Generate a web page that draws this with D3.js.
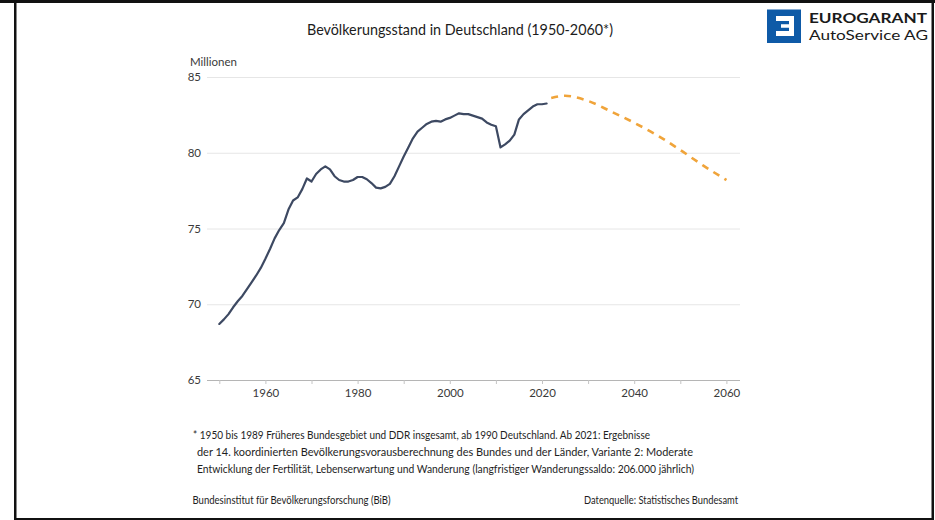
<!DOCTYPE html>
<html>
<head>
<meta charset="utf-8">
<script src="https://cdn.jsdelivr.net/npm/d3@7"></script>
<style>
  body { margin: 0; background: #fff; }
  svg { display: block; }
  text { font-family: Lato, "Noto Sans", sans-serif; }
</style>
</head>
<body>
<svg id="chart" width="935" height="520"></svg>
<script>
// Population of Germany, millions (1950–2021 observed)
const years = d3.range(1950, 2022);
const population = [
  68.7, 69.0, 69.35, 69.8, 70.2, 70.55, 71.0, 71.45, 71.9, 72.4,
  73.0, 73.65, 74.35, 74.9, 75.35, 76.25, 76.85, 77.05, 77.6, 78.3,
  78.1, 78.6, 78.9, 79.1, 78.9, 78.45, 78.2, 78.1, 78.1, 78.2,
  78.4, 78.4, 78.25, 78.0, 77.7, 77.65, 77.75, 77.95, 78.45, 79.1,
  79.75, 80.35, 80.95, 81.4, 81.65, 81.9, 82.05, 82.1, 82.05, 82.2,
  82.3, 82.45, 82.6, 82.55, 82.55, 82.45, 82.35, 82.25, 82.0, 81.85,
  81.75, 80.35, 80.55, 80.8, 81.2, 82.2, 82.55, 82.8, 83.05, 83.2,
  83.2, 83.25
];
// Projection (14th coordinated population projection, variant 2)
const projYears = [2022, 2025, 2030, 2035, 2040, 2045, 2050, 2055, 2060];
const projPopulation = [83.62, 83.76, 83.42, 82.72, 81.98, 81.15, 80.18, 79.15, 78.2];

const yTicks = [65, 70, 75, 80, 85];
const xTicks = [1950, 1960, 1970, 1980, 1990, 2000, 2010, 2020, 2030, 2040, 2050, 2060];
const xLabels = [1960, 1980, 2000, 2020, 2040, 2060];

const titleText = "Bevölkerungsstand in Deutschland (1950-2060*)";
const unitText = "Millionen";
const notes = [
  "* 1950 bis 1989 Früheres Bundesgebiet und DDR insgesamt, ab 1990 Deutschland. Ab 2021: Ergebnisse",
  "der 14. koordinierten Bevölkerungsvorausberechnung des Bundes und der Länder, Variante 2: Moderate",
  "Entwicklung der Fertilität, Lebenserwartung und Wanderung (langfristiger Wanderungssaldo: 206.000 jährlich)"
];
const sourceLeft = "Bundesinstitut für Bevölkerungsforschung (BiB)";
const sourceRight = "Datenquelle: Statistisches Bundesamt";

const svg = d3.select("#chart");

// squeeze a text element to a given width (the house font is narrow)
function fit(sel, w) {
  const n = sel.node();
  if (n.getComputedTextLength() > w) {
    sel.attr("textLength", w).attr("lengthAdjust", "spacingAndGlyphs");
  }
  return sel;
}
// set a text element to an exact width
function span(sel, w) {
  return sel.attr("textLength", w).attr("lengthAdjust", "spacingAndGlyphs");
}

// frame
svg.append("rect").attr("x", 0).attr("y", 0).attr("width", 935).attr("height", 3).attr("fill", "#111");
svg.append("rect").attr("x", 14).attr("y", 0).attr("width", 2.5).attr("height", 520).attr("fill", "#111");
svg.append("rect").attr("x", 931.5).attr("y", 0).attr("width", 2.5).attr("height", 520).attr("fill", "#111");
svg.append("rect").attr("x", 14).attr("y", 518).attr("width", 920).attr("height", 2).attr("fill", "#111");

// logo
const logo = svg.append("g");
logo.append("rect").attr("x", 767).attr("y", 9.5).attr("width", 34).attr("height", 33.5).attr("fill", "#0e5aa7");
logo.append("path")
  .attr("d", "M776,16 H794 V36 H776 V31 H789 V27.7 H781 V24.3 H789 V21 H776 Z")
  .attr("fill", "#fff");
span(logo.append("text").attr("x", 809).attr("y", 22.5)
  .attr("font-size", 14).attr("font-weight", 700).attr("fill", "#1a1a1a")
  .text("EUROGARANT"), 118);
span(logo.append("text").attr("x", 809).attr("y", 39.5)
  .attr("font-size", 14).attr("font-weight", 400).attr("fill", "#1a1a1a")
  .text("AutoService AG"), 119);

// title
fit(svg.append("text").attr("x", 460).attr("y", 35).attr("text-anchor", "middle")
  .attr("font-size", 15).attr("fill", "#1c1c1c").text(titleText), 306);

// scales
const x = d3.scaleLinear().domain([1950, 2060]).range([219.3, 726.4]);
const y = d3.scaleLinear().domain([65, 85]).range([380, 77]);
const left = 207, right = 740;

// horizontal gridlines + y labels
const yAxis = svg.append("g")
  .attr("transform", `translate(${right},0)`)
  .call(d3.axisLeft(y).tickValues(yTicks).tickSize(right - left).tickPadding(6).tickFormat(d3.format("d")));
yAxis.select(".domain").remove();
yAxis.selectAll(".tick line").attr("stroke", d => d === 65 ? "#b5b5b5" : "#e6e6e6").attr("stroke-width", 1);
yAxis.selectAll(".tick text").attr("font-size", 11.5).attr("fill", "#3a3a3a").style("font-family", "Lato, sans-serif");

// x axis ticks + labels
const xAxis = svg.append("g")
  .attr("transform", `translate(0,${y(65)})`)
  .call(d3.axisBottom(x).tickValues(xTicks).tickSize(4).tickPadding(5)
    .tickFormat(d => xLabels.includes(d) ? String(d) : ""));
xAxis.select(".domain").remove();
xAxis.selectAll(".tick line").attr("stroke", "#c4c4c4");
xAxis.selectAll(".tick text").attr("font-size", 11.5).attr("fill", "#3a3a3a").style("font-family", "Lato, sans-serif");

// unit label
svg.append("text").attr("x", 190).attr("y", 66).attr("font-size", 11.5).attr("fill", "#3a3a3a").text(unitText);

// observed line
const line = d3.line().x(d => x(d[0])).y(d => y(d[1]));
svg.append("path")
  .datum(years.map((yr, i) => [yr, population[i]]))
  .attr("d", line)
  .attr("fill", "none").attr("stroke", "#3d4962").attr("stroke-width", 2.2)
  .attr("stroke-linejoin", "round").attr("stroke-linecap", "round");

// projection line
svg.append("path")
  .datum(projYears.map((yr, i) => [yr, projPopulation[i]]))
  .attr("d", line.curve(d3.curveMonotoneX))
  .attr("fill", "none").attr("stroke", "#f0a43a").attr("stroke-width", 2.6)
  .attr("stroke-dasharray", "7,6");

// footnote
const noteX = [193, 197, 197];
const noteEnd = [650, 693, 694];
const noteY = [439, 456, 472.5];
notes.forEach((t, i) => {
  fit(svg.append("text").attr("x", noteX[i]).attr("y", noteY[i])
    .attr("font-size", 11.8).attr("fill", "#1e1e1e").text(t), noteEnd[i] - noteX[i]);
});

// sources
fit(svg.append("text").attr("x", 192.5).attr("y", 504).attr("font-size", 11.8).attr("fill", "#1e1e1e").text(sourceLeft), 198);
fit(svg.append("text").attr("x", 738).attr("y", 504).attr("text-anchor", "end")
  .attr("font-size", 11.8).attr("fill", "#1e1e1e").text(sourceRight), 154);
</script>
</body>
</html>
